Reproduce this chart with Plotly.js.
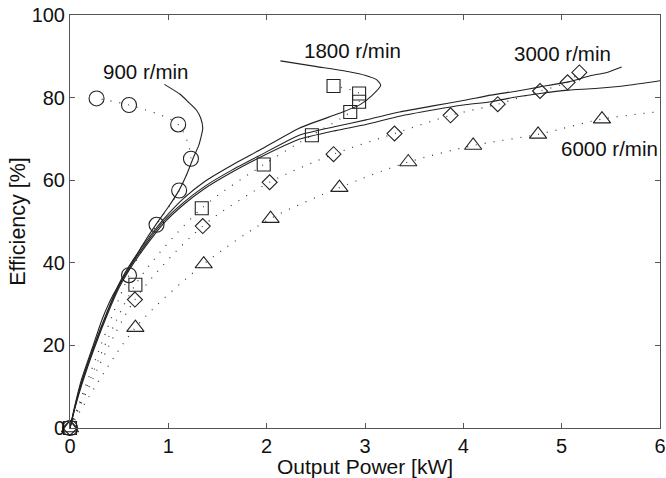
<!DOCTYPE html>
<html>
<head>
<meta charset="utf-8">
<script src="https://cdn.plot.ly/plotly-3.0.1.min.js"></script>
<style>html,body{margin:0;padding:0;background:#fff;}#chart{width:666px;height:478px;}</style>
</head>
<body>
<div id="chart"></div>
<script>
// ---- Measured points (markers + dotted fits) ----
const circX = [0, 0.60, 0.88, 1.11, 1.23, 1.10, 0.60, 0.27];
const circY = [0, 37.0, 49.2, 57.5, 65.2, 73.5, 78.2, 79.8];
const sqX = [0, 0.665, 1.34, 1.97, 2.46, 2.85, 2.94, 2.94, 2.68];
const sqY = [0, 34.7, 53.2, 63.8, 70.9, 76.5, 79.0, 81.0, 82.8];
const diaX = [0, 0.66, 1.35, 2.03, 2.68, 3.30, 3.87, 4.35, 4.78, 5.06, 5.18];
const diaY = [0, 31.1, 48.9, 59.5, 66.3, 71.3, 75.7, 78.4, 81.6, 83.7, 86.1];
const triX = [0, 0.665, 1.36, 2.04, 2.74, 3.44, 4.10, 4.76, 5.41];
const triY = [0, 24.3, 39.7, 50.7, 58.2, 64.4, 68.4, 71.1, 74.8];
const triTailX = [6.0];
const triTailY = [76.6];

// ---- Solid curves ----
const l900X = [0, 0.05, 0.12, 0.23, 0.33, 0.44, 0.59, 0.73, 0.88, 1.00, 1.11, 1.18, 1.25, 1.31, 1.35, 1.33, 1.285, 1.20, 1.12, 0.96];
const l900Y = [0, 5.5, 12.0, 19.6, 26.5, 32.3, 38.2, 44.0, 49.5, 53.5, 57.6, 61.0, 65.2, 68.5, 72.5, 75.0, 77.0, 79.0, 80.8, 83.2];
const l1800X = [0, 0.05, 0.12, 0.25, 0.38, 0.50, 0.65, 0.80, 0.95, 1.15, 1.37, 1.65, 1.93, 2.33, 2.74, 2.95, 3.07, 3.16, 3.12, 3.00, 2.85, 2.51, 2.14];
const l1800Y = [0, 5.2, 11.3, 20.3, 28.3, 35.0, 41.0, 46.0, 50.5, 55.5, 59.7, 63.7, 67.3, 72.6, 76.2, 78.3, 80.5, 83.0, 84.3, 85.4, 86.2, 87.5, 88.9];
const l3000X = [0, 0.05, 0.12, 0.25, 0.38, 0.50, 0.65, 0.80, 0.95, 1.15, 1.37, 1.65, 1.93, 2.33, 2.70, 3.01, 3.35, 3.69, 4.00, 4.28, 4.55, 4.78, 5.07, 5.31, 5.45, 5.61];
const l3000Y = [0, 5.0, 11.0, 20.0, 28.0, 34.5, 40.5, 45.5, 50.0, 54.5, 58.5, 62.5, 66.0, 70.9, 73.0, 74.6, 76.5, 78.0, 79.3, 80.6, 81.6, 82.6, 83.8, 85.4, 86.0, 87.4];
const l6000X = [0, 0.05, 0.12, 0.25, 0.38, 0.50, 0.65, 0.80, 0.95, 1.15, 1.37, 1.65, 1.93, 2.33, 2.70, 3.01, 3.35, 3.69, 4.00, 4.28, 4.55, 4.78, 5.07, 5.34, 5.68, 6.00];
const l6000Y = [0, 4.8, 10.5, 19.5, 27.5, 34.0, 40.0, 45.0, 49.5, 54.0, 58.0, 62.0, 65.5, 69.9, 72.0, 73.5, 75.5, 77.0, 78.2, 79.0, 80.2, 81.0, 81.8, 82.2, 83.0, 84.1];

// ---- Labels ----
const labelText = ['900 r/min', '1800 r/min', '3000 r/min', '6000 r/min'];
const labelX = [0.77, 2.875, 5.01, 5.49];
const labelY = [86.4, 91.4, 90.8, 67.7];

const xTicks = [0, 1, 2, 3, 4, 5, 6];
const yTicks = [0, 20, 40, 60, 80, 100];

const FONT = 'Arial, Liberation Sans, sans-serif';
const dotLine = {color: '#333', width: 1.2, dash: '1px,8px', shape: 'spline', smoothing: 0.8};
const solid = {color: '#222', width: 1.1, shape: 'spline', smoothing: 0.5};
function mk(sym, size) {
  return {symbol: sym, size: size, color: '#222', line: {color: '#222', width: 1.1}};
}

const traces = [
  {x: circX, y: circY, mode: 'lines', line: dotLine, cliponaxis: false},
  {x: sqX, y: sqY, mode: 'lines', line: dotLine, cliponaxis: false},
  {x: diaX, y: diaY, mode: 'lines', line: dotLine, cliponaxis: false},
  {x: triX.concat(triTailX), y: triY.concat(triTailY), mode: 'lines', line: dotLine, cliponaxis: false},
  {x: l900X, y: l900Y, mode: 'lines', line: solid, cliponaxis: false},
  {x: l1800X, y: l1800Y, mode: 'lines', line: solid, cliponaxis: false},
  {x: l3000X, y: l3000Y, mode: 'lines', line: solid, cliponaxis: false},
  {x: l6000X, y: l6000Y, mode: 'lines', line: solid, cliponaxis: false},
  {x: circX, y: circY, mode: 'markers', marker: mk('circle-open', 15), cliponaxis: false},
  {x: sqX, y: sqY, mode: 'markers', marker: mk('square-open', 13), cliponaxis: false},
  {x: diaX, y: diaY, mode: 'markers', marker: mk('diamond-open', 11.5), cliponaxis: false},
  {x: triX, y: triY, mode: 'markers', marker: mk('triangle-up-open', 15), cliponaxis: false}
];

const annotations = labelText.map((t, i) => ({
  x: labelX[i], y: labelY[i], xref: 'x', yref: 'y', text: t, showarrow: false,
  font: {family: FONT, size: 20.5, color: '#111'}, xanchor: 'center', yanchor: 'middle'
}));

const axisCommon = {
  showgrid: false, zeroline: false, showline: true, linecolor: '#555', linewidth: 1,
  mirror: 'ticks', ticks: 'inside', ticklen: 5, tickcolor: '#555', tickwidth: 1,
  tickfont: {family: FONT, size: 20, color: '#111'}
};

const layout = {
  width: 666, height: 478,
  margin: {l: 70, r: 6, t: 15, b: 50},
  paper_bgcolor: '#fff', plot_bgcolor: '#fff',
  showlegend: false,
  xaxis: Object.assign({}, axisCommon, {
    range: [0, 6], tickvals: xTicks, ticktext: xTicks.map(String),
    title: {text: 'Output Power [kW]', font: {family: FONT, size: 21, color: '#111'}, standoff: 0}
  }),
  yaxis: Object.assign({}, axisCommon, {
    range: [0, 100], tickvals: yTicks, ticktext: yTicks.map(String),
    title: {text: 'Efficiency [%]', font: {family: FONT, size: 21.5, color: '#111'}, standoff: 0}
  }),
  annotations: annotations
};

Plotly.newPlot('chart', traces, layout, {displayModeBar: false, staticPlot: true});
</script>
</body>
</html>
